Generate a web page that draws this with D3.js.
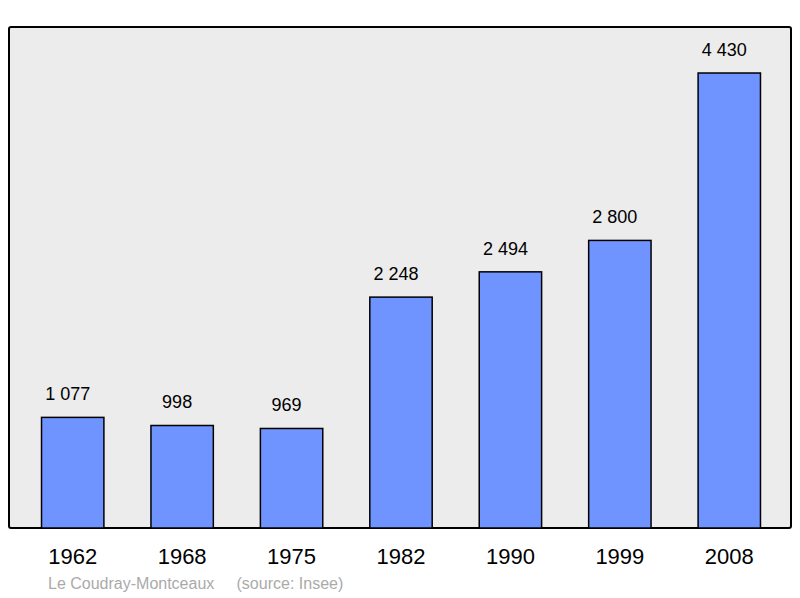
<!DOCTYPE html>
<html>
<head>
<meta charset="utf-8">
<script src="https://cdn.jsdelivr.net/npm/d3@7"></script>
<style>body{margin:0;background:#fff}</style>
</head>
<body>
<svg id="chart"></svg>
<script>
const years = ['1962', '1968', '1975', '1982', '1990', '1999', '2008'];
const population = [1077, 998, 969, 2248, 2494, 2800, 4430];
const labels = ['1 077', '998', '969', '2 248', '2 494', '2 800', '4 430'];

const width = 800, height = 598;
const svg = d3.select('#chart').attr('width', width).attr('height', height);

// plot frame
svg.append('rect')
  .attr('x', 9).attr('y', 27).attr('width', 782).attr('height', 501)
  .attr('rx', 2)
  .attr('fill', '#ececec').attr('stroke', '#000').attr('stroke-width', 2);

const x = d3.scaleBand().domain(years).range([18, 784]).paddingInner(0.43).paddingOuter(0.215);
const y = d3.scaleLinear().domain([0, 4878]).range([528, 27]);

svg.selectAll('rect.bar')
  .data(population)
  .enter()
  .append('rect')
  .attr('class', 'bar')
  .attr('x', (d, i) => x(years[i]))
  .attr('y', d => y(d))
  .attr('width', x.bandwidth())
  .attr('height', d => y(0) - y(d))
  .attr('fill', '#7094ff')
  .attr('stroke', '#000')
  .attr('stroke-width', 1.5);

svg.selectAll('text.val')
  .data(population)
  .enter()
  .append('text')
  .attr('class', 'val')
  .attr('x', (d, i) => x(years[i]) + x.bandwidth() / 2 - 5)
  .attr('y', d => y(d) - 17)
  .attr('text-anchor', 'middle')
  .style('font-family', 'Liberation Sans, Arial, sans-serif')
  .style('font-size', '18px')
  .text((d, i) => labels[i]);

svg.selectAll('text.year')
  .data(years)
  .enter()
  .append('text')
  .attr('class', 'year')
  .attr('x', d => x(d) + x.bandwidth() / 2)
  .attr('y', 564)
  .attr('text-anchor', 'middle')
  .style('font-family', 'Liberation Sans, Arial, sans-serif')
  .style('font-size', '22px')
  .text(d => d);

svg.append('text')
  .attr('x', 48).attr('y', 589)
  .style('font-family', 'Liberation Sans, Arial, sans-serif')
  .style('font-size', '16px')
  .attr('fill', '#aaaaaa')
  .style('white-space', 'pre')
  .text('Le Coudray-Montceaux     (source: Insee)');
</script>
</body>
</html>
